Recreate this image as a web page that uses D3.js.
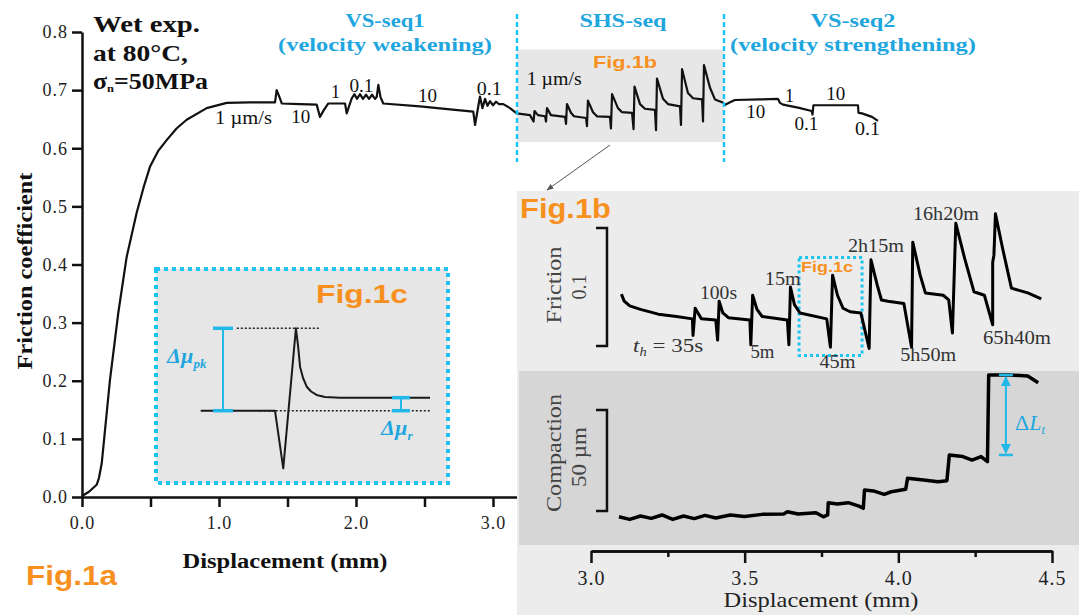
<!DOCTYPE html>
<html>
<head>
<meta charset="utf-8">
<script src="https://cdn.jsdelivr.net/npm/d3@7"></script>
<style>
  body { margin: 0; background: #fff; }
  svg { display: block; }
</style>
</head>
<body>
<script>
// ---- main friction curve (Fig.1a): displacement (mm) vs friction coefficient
var mainDisp = [0, 0.009, 0.051, 0.107, 0.124, 0.144, 0.168, 0.204, 0.265, 0.326, 0.399, 0.450, 0.496, 0.555, 0.618, 0.690, 0.764, 0.910, 1.056, 1.226, 1.409, 1.421, 1.438,
  1.458, 1.591, 1.713, 1.737, 1.766, 1.798, 1.920, 1.932, 1.969, 1.989, 2.007, 2.029, 2.051, 2.073, 2.095, 2.117, 2.139, 2.151, 2.163, 2.179,
  2.199, 2.467, 2.686, 2.856, 2.869, 2.905, 2.923, 2.942, 2.960, 2.978, 3.000, 3.022, 3.044, 3.075, 3.124, 3.173,
  3.270, 3.296, 3.303, 3.328, 3.380, 3.387, 3.394, 3.423, 3.526, 3.533, 3.540, 3.569, 3.591, 3.679, 3.686, 3.693, 3.730, 3.759, 3.854, 3.861,
  3.869, 3.912, 3.942, 4.015, 4.026, 4.033, 4.073, 4.109, 4.182, 4.190, 4.197, 4.241, 4.277, 4.365, 4.372, 4.380, 4.423, 4.460, 4.526, 4.533,
  4.540, 4.584, 4.620, 4.686,
  4.688, 4.730, 4.766, 4.949, 5.080, 5.095, 5.117, 5.226, 5.326, 5.332, 5.339, 5.664, 5.668, 5.693, 5.766, 5.810];
var mainFric = [0, 0.003, 0.009, 0.021, 0.033, 0.058, 0.115, 0.201, 0.317, 0.413, 0.489, 0.533, 0.568, 0.595, 0.614, 0.634, 0.649, 0.669, 0.678, 0.679, 0.679, 0.700, 0.690,
  0.677, 0.676, 0.675, 0.654, 0.666, 0.677, 0.677, 0.660, 0.686, 0.693, 0.685, 0.693, 0.685, 0.692, 0.685, 0.692, 0.685, 0.688, 0.709, 0.688,
  0.677, 0.672, 0.667, 0.663, 0.640, 0.689, 0.669, 0.685, 0.673, 0.681, 0.674, 0.680, 0.676, 0.676, 0.669, 0.660,
  0.657, 0.646, 0.664, 0.657, 0.655, 0.646, 0.669, 0.657, 0.654, 0.642, 0.676, 0.661, 0.655, 0.652, 0.638, 0.682, 0.662, 0.655, 0.654, 0.634,
  0.693, 0.669, 0.662, 0.661, 0.633, 0.706, 0.676, 0.668, 0.666, 0.631, 0.720, 0.685, 0.676, 0.672, 0.640, 0.736, 0.695, 0.686, 0.684, 0.646,
  0.743, 0.704, 0.684, 0.678,
  0.674, 0.679, 0.683, 0.684, 0.685, 0.678, 0.675, 0.670, 0.664, 0.658, 0.674, 0.674, 0.661, 0.660, 0.654, 0.647];

// velocity step labels on the main curve
var velText = ["1 \u00b5m/s", "10", "1", "0.1", "10", "0.1", "1 \u00b5m/s", "10", "1", "0.1", "10", "0.1"];
var velDisp = [0.971, 1.597, 1.850, 2.040, 2.522, 2.972, 3.246, 4.918, 5.164, 5.288, 5.502, 5.734];
var velFric = [0.642, 0.643, 0.686, 0.697, 0.680, 0.692, 0.709, 0.652, 0.680, 0.631, 0.683, 0.623];
var velLen = [57, 19, 0, 24, 19, 25, 55, 19, 0, 24, 19, 25];

// sequence boundaries (mm) and their headings
var seqBounds = [3.175, 4.686];
var seqText = ["VS-seq1", "SHS-seq", "VS-seq2"];
var seqSub = ["(velocity weakening)", "", "(velocity strengthening)"];

// ---- Fig.1b: slide-hold-slide detail
var shsDisp = [3.099, 3.108, 3.126, 3.161, 3.219, 3.278, 3.330, 3.332, 3.339, 3.348, 3.359, 3.406, 3.412, 3.417, 3.429, 3.447, 3.517, 3.520, 3.526, 3.540,
  3.557, 3.639, 3.644, 3.649, 3.662, 3.680, 3.767, 3.779, 3.786, 3.802, 3.820, 3.843, 3.878, 3.905, 3.911, 3.931, 3.945, 3.966, 4.018, 4.043,
  4.047, 4.071, 4.088, 4.146, 4.164, 4.176, 4.187, 4.216, 4.246, 4.280, 4.307, 4.307, 4.311, 4.316, 4.339, 4.368, 4.421, 4.465];
var shsFric = [0.674, 0.668, 0.664, 0.661, 0.657, 0.655, 0.653, 0.639, 0.662, 0.658, 0.653, 0.652, 0.635, 0.668, 0.658, 0.654, 0.652, 0.631, 0.673, 0.661,
  0.655, 0.652, 0.631, 0.680, 0.665, 0.658, 0.653, 0.629, 0.690, 0.673, 0.662, 0.659, 0.658, 0.628, 0.703, 0.682, 0.669, 0.668, 0.666, 0.629,
  0.718, 0.690, 0.675, 0.673, 0.669, 0.641, 0.734, 0.704, 0.676, 0.673, 0.648, 0.701, 0.707, 0.742, 0.713, 0.679, 0.675, 0.670];

var holdText = ["100s", "15m", "2h15m", "16h20m", "5m", "45m", "5h50m", "65h40m"];
var holdDisp = [3.415, 3.624, 3.927, 4.155, 3.558, 3.802, 4.097, 4.386];
var holdFric = [0.670, 0.682, 0.710, 0.737, 0.620, 0.611, 0.617, 0.632];
var holdLen = [37, 36, 56, 66, 24, 36, 56, 68];

// compaction (um) during the SHS sequence
var compDisp = [3.091, 3.126, 3.161, 3.196, 3.231, 3.266, 3.301, 3.336, 3.371, 3.406, 3.453, 3.499, 3.557, 3.627, 3.639, 3.674, 3.732, 3.756, 3.770,
  3.772, 3.802, 3.837, 3.872, 3.886, 3.890, 3.919, 3.954, 3.977, 4.024, 4.030, 4.082, 4.129, 4.158, 4.166, 4.210, 4.240, 4.269, 4.290,
  4.294, 4.361, 4.421, 4.455];
var compVal = [0.1, -1.2, 0.5, -0.7, 1.0, -1.2, 0.5, -0.8, 0.8, -0.5, 1.0, 0.2, 1.3, 1.5, 2.6, 1.5, 2.1, 0.1, 1.0,
  7.1, 6.4, 7.1, 5.4, 4.3, 13.4, 12.9, 11.2, 12.5, 13.7, 19.2, 18.3, 17.5, 18.0, 30.7, 29.9, 28.2, 29.9, 27.4,
  70.3, 70.3, 69.8, 66.5];

// ---- Fig.1c schematic (arbitrary units)
var schemX = [0.3, 32.6, 36.2, 41.7, 42.6, 43.5, 44.8, 46.4, 48.3, 50.7, 54.3, 60.9, 100];
var schemY = [0, 0, -70, 100, 79.7, 53.4, 39.7, 29.1, 23.3, 19.1, 16.6, 15.8, 15.8];

// axis ticks
var mainXTicks = [0, 0.5, 1, 1.5, 2, 2.5, 3];
var mainYTicks = [0, 0.1, 0.2, 0.3, 0.4, 0.5, 0.6, 0.7, 0.8];
var insetMajor = [3.0, 3.5, 4.0, 4.5];
var insetMinor = [3.25, 3.75, 4.25];

var serif = "'Liberation Serif','Times New Roman',serif";
var sans = "'Liberation Sans',Arial,sans-serif";
var cyanText = "#1fa6de";
var cyanLine = "#1cc4f0";
var orange = "#f7901e";

var width = 1079, height = 615;
var svg = d3.select("body").append("svg")
  .attr("width", width).attr("height", height);

var defs = svg.append("defs");
defs.append("marker")
  .attr("id", "arr").attr("viewBox", "0 0 10 10")
  .attr("refX", 9).attr("refY", 5)
  .attr("markerWidth", 7).attr("markerHeight", 7)
  .attr("orient", "auto-start-reverse")
  .append("path").attr("d", "M0,1 L10,5 L0,9 z").attr("fill", "#555");
defs.append("marker")
  .attr("id", "arrc").attr("viewBox", "0 0 10 10")
  .attr("refX", 9).attr("refY", 5)
  .attr("markerWidth", 5).attr("markerHeight", 5)
  .attr("orient", "auto-start-reverse")
  .append("path").attr("d", "M0,0 L10,5 L0,10 z").attr("fill", "#22b8e8");

function addText(parent, str, x, y, o) {
  var t = parent.append("text")
    .attr("x", x).attr("y", y)
    .attr("font-size", o.size)
    .attr("font-family", o.font || serif)
    .attr("font-weight", o.bold ? "bold" : "normal")
    .attr("font-style", o.italic ? "italic" : "normal")
    .attr("text-anchor", o.anchor || "start")
    .style("fill", o.color || "#111")
    .text(str);
  if (o.len) t.attr("textLength", o.len).attr("lengthAdjust", "spacingAndGlyphs");
  return t;
}

// ================= Fig.1a =================
var x = d3.scaleLinear().domain([0, 3]).range([82, 493]);
var y = d3.scaleLinear().domain([0, 0.8]).range([497, 32]);

// grey band behind the SHS sequence
svg.append("rect")
  .attr("x", x(seqBounds[0])).attr("y", y(0.77))
  .attr("width", x(seqBounds[1]) - x(seqBounds[0]))
  .attr("height", y(0.611) - y(0.77))
  .attr("fill", "#e7e7e7");

var line = d3.line()
  .x((d, i) => x(mainDisp[i]))
  .y((d, i) => y(mainFric[i]));

svg.append("path")
  .datum(mainDisp)
  .attr("d", line)
  .attr("fill", "none")
  .attr("stroke", "#111")
  .attr("stroke-width", 2.2)
  .attr("stroke-linejoin", "round");

// sequence boundaries
seqBounds.forEach((b) => {
  svg.append("line")
    .attr("x1", x(b)).attr("x2", x(b))
    .attr("y1", 14).attr("y2", 162)
    .attr("stroke", cyanLine)
    .attr("stroke-width", 2.5)
    .attr("stroke-dasharray", "5,3");
});
var seqCenter = [385, 623, 853];
var seqLen = [79, 87, 85];
var subLen = [214, 0, 246];
seqText.forEach((s, i) => {
  addText(svg, s, seqCenter[i], 27, {size: 18, bold: true, anchor: "middle", color: cyanText, len: seqLen[i]});
  if (seqSub[i]) addText(svg, seqSub[i], seqCenter[i], 51, {size: 18, bold: true, anchor: "middle", color: cyanText, len: subLen[i]});
});

// velocity labels
velText.forEach((s, i) => {
  var anchor = s.indexOf("m/s") > 0 ? "start" : "middle";
  addText(svg, s, x(velDisp[i]), y(velFric[i]), {size: 18, anchor: anchor, color: "#111", len: velLen[i] || null});
});

addText(svg, "Fig.1b", 593, 68, {size: 17, bold: true, font: sans, color: orange, len: 64});

// axes
var yAxis = svg.append("g")
  .attr("transform", "translate(82,0)")
  .call(d3.axisLeft(y).tickValues(mainYTicks).tickFormat(d3.format(".1f")).tickSize(10).tickSizeOuter(0).tickPadding(4));
var xAxisScale = x.copy().domain([0, x.invert(519)]).range([82, 519]);
var xAxis = svg.append("g")
  .attr("transform", "translate(0,497)")
  .call(d3.axisBottom(xAxisScale).tickValues(mainXTicks)
    .tickFormat((d) => (d % 1 === 0 ? d.toFixed(1) : ""))
    .tickSize(10).tickSizeOuter(0).tickPadding(9));
[yAxis, xAxis].forEach((a) => {
  a.select(".domain").attr("stroke", "#111").attr("stroke-width", 2.5);
  a.selectAll(".tick line").attr("stroke", "#111").attr("stroke-width", 2.5);
  a.selectAll(".tick text").attr("font-family", serif).attr("font-size", 18)
    .attr("letter-spacing", 1).style("fill", "#222");
});

addText(svg, "Displacement (mm)", 285, 568, {size: 20, bold: true, anchor: "middle", len: 205});
addText(svg, "Friction coefficient", 0, 0, {size: 22, bold: true, anchor: "middle", len: 197})
  .attr("transform", "translate(32,271) rotate(-90)");
addText(svg, "Fig.1a", 26, 585, {size: 27, bold: true, font: sans, color: orange, len: 91});

// experiment conditions
addText(svg, "Wet exp.", 93, 32, {size: 23, bold: true, len: 107});
addText(svg, "at 80\u00b0C,", 93, 61, {size: 23, bold: true, len: 95});
var sig = svg.append("text").attr("x", 93).attr("y", 89)
  .attr("font-family", serif).attr("font-weight", "bold").attr("font-size", 23)
  .attr("textLength", 115).attr("lengthAdjust", "spacingAndGlyphs").style("fill", "#111");
sig.append("tspan").text("\u03c3");
sig.append("tspan").attr("font-size", 11).attr("dy", 3).text("n");
sig.append("tspan").attr("dy", -3).text("=50MPa");

// ================= Fig.1c schematic =================
svg.append("rect")
  .attr("x", 156).attr("y", 269).attr("width", 292).attr("height", 214)
  .attr("fill", "#e6e6e6")
  .attr("stroke", cyanLine).attr("stroke-width", 4).attr("stroke-dasharray", "4,4");
addText(svg, "Fig.1c", 316, 303, {size: 26, bold: true, font: sans, color: orange, len: 92});

var sx = d3.scaleLinear().domain([0, 100]).range([200, 430]);
var sy = d3.scaleLinear().domain([0, 100]).range([410.7, 328.3]);

// dotted reference levels
svg.append("line").attr("x1", sx(26)).attr("x2", sx(100)).attr("y1", sy(0)).attr("y2", sy(0))
  .attr("stroke", "#222").attr("stroke-width", 1.6).attr("stroke-dasharray", "2,2");
svg.append("line").attr("x1", sx(16)).attr("x2", sx(52)).attr("y1", sy(100)).attr("y2", sy(100))
  .attr("stroke", "#222").attr("stroke-width", 1.6).attr("stroke-dasharray", "2,2");

svg.append("path")
  .datum(schemX)
  .attr("d", d3.line().x((d) => sx(d)).y((d, i) => sy(schemY[i])))
  .attr("fill", "none").attr("stroke", "#1a1a1a").attr("stroke-width", 2).attr("stroke-linejoin", "round");

function bar(cx, v0, v1, halfw) {
  svg.append("line").attr("x1", cx).attr("x2", cx).attr("y1", sy(v0)).attr("y2", sy(v1))
    .attr("stroke", "#22b8e8").attr("stroke-width", 2);
  [v0, v1].forEach((v) => {
    svg.append("line").attr("x1", cx - halfw).attr("x2", cx + halfw).attr("y1", sy(v)).attr("y2", sy(v))
      .attr("stroke", "#22b8e8").attr("stroke-width", 3.5);
  });
}
bar(sx(10), 0, 100, 10);
bar(sx(87.4), 0, 15.8, 9);

var dpk = svg.append("text").attr("x", 167).attr("y", 363)
  .attr("font-family", serif).attr("font-weight", "bold").attr("font-style", "italic")
  .attr("font-size", 22).style("fill", cyanText);
dpk.append("tspan").text("\u0394\u00b5");
dpk.append("tspan").attr("font-size", 13).attr("dy", 5).text("pk");
var dr = svg.append("text").attr("x", 381).attr("y", 435)
  .attr("font-family", serif).attr("font-weight", "bold").attr("font-style", "italic")
  .attr("font-size", 22).style("fill", cyanText);
dr.append("tspan").text("\u0394\u00b5");
dr.append("tspan").attr("font-size", 13).attr("dy", 5).text("r");

// ================= Fig.1b inset =================
svg.append("line").attr("x1", 610).attr("y1", 145).attr("x2", 547).attr("y2", 190)
  .attr("stroke", "#555").attr("stroke-width", 1).attr("marker-end", "url(#arr)");

svg.append("rect").attr("x", 517).attr("y", 191).attr("width", 562).attr("height", 424).attr("fill", "#ececec");
svg.append("rect").attr("x", 519).attr("y", 371).attr("width", 560).attr("height", 174).attr("fill", "#d6d6d6");

var x1 = d3.scaleLinear().domain([3.0, 4.5]).range([591, 1052]);
var yF = d3.scaleLinear().domain([0.63, 0.73]).range([346, 228]);
var yC = d3.scaleLinear().domain([0, 50]).range([517, 416]);

addText(svg, "Fig.1b", 520, 218, {size: 27, bold: true, font: sans, color: orange, len: 91});

// scale bars
function scaleBar(ys, v0, v1) {
  var bx = x1(3.052);
  svg.append("path")
    .attr("d", "M" + (bx - 11) + "," + ys(v1) + "H" + bx + "V" + ys(v0) + "H" + (bx - 11))
    .attr("fill", "none").attr("stroke", "#111").attr("stroke-width", 2.5);
}
scaleBar(yF, 0.63, 0.73);
scaleBar(yC, 3, 53);

addText(svg, "Friction", 0, 0, {size: 21, anchor: "middle", color: "#444", len: 77})
  .attr("transform", "translate(561,285) rotate(-90)");
addText(svg, "0.1", 0, 0, {size: 21, anchor: "middle", color: "#444", len: 25})
  .attr("transform", "translate(586,287) rotate(-90)");
addText(svg, "Compaction", 0, 0, {size: 21, anchor: "middle", color: "#444", len: 118})
  .attr("transform", "translate(561,453) rotate(-90)");
addText(svg, "50 \u00b5m", 0, 0, {size: 21, anchor: "middle", color: "#444", len: 60})
  .attr("transform", "translate(586,457) rotate(-90)");

// small Fig.1c box
svg.append("rect")
  .attr("x", x1(3.677)).attr("y", yF(0.705))
  .attr("width", x1(3.882) - x1(3.677)).attr("height", yF(0.622) - yF(0.705))
  .attr("fill", "none").attr("stroke", cyanLine).attr("stroke-width", 3).attr("stroke-dasharray", "3,3");
addText(svg, "Fig.1c", 801, 272, {size: 14, bold: true, font: sans, color: orange, len: 52});

svg.append("path")
  .datum(shsDisp)
  .attr("d", d3.line().x((d) => x1(d)).y((d, i) => yF(shsFric[i])))
  .attr("fill", "none").attr("stroke", "#000").attr("stroke-width", 3).attr("stroke-linejoin", "round");

holdText.forEach((s, i) => {
  addText(svg, s, x1(holdDisp[i]), yF(holdFric[i]), {size: 19, anchor: "middle", color: "#333", len: holdLen[i]});
});
var th = svg.append("text").attr("x", x1(3.137)).attr("y", yF(0.625))
  .attr("font-family", serif).attr("font-size", 19).style("fill", "#333")
  .attr("textLength", 70).attr("lengthAdjust", "spacingAndGlyphs");
th.append("tspan").attr("font-style", "italic").text("t");
th.append("tspan").attr("font-style", "italic").attr("font-size", 12).attr("dy", 4).text("h");
th.append("tspan").attr("dy", -4).text(" = 35s");

// compaction trace
svg.append("path")
  .datum(compDisp)
  .attr("d", d3.line().x((d) => x1(d)).y((d, i) => yC(compVal[i])))
  .attr("fill", "none").attr("stroke", "#000").attr("stroke-width", 3.5).attr("stroke-linejoin", "round");

// delta L arrow
var ax = x1(4.35);
svg.append("line").attr("x1", ax).attr("x2", ax).attr("y1", yC(70.3) + 2).attr("y2", yC(30.7) - 2)
  .attr("stroke", "#22b8e8").attr("stroke-width", 2)
  .attr("marker-start", "url(#arrc)").attr("marker-end", "url(#arrc)");
[70.3, 30.7].forEach((v) => {
  svg.append("line").attr("x1", ax - 7).attr("x2", ax + 7).attr("y1", yC(v)).attr("y2", yC(v))
    .attr("stroke", "#22b8e8").attr("stroke-width", 2.5);
});
var dl = svg.append("text").attr("x", x1(4.38)).attr("y", yC(43))
  .attr("font-family", serif).attr("font-size", 22).style("fill", cyanText);
dl.append("tspan").text("\u0394");
dl.append("tspan").attr("font-style", "italic").text("L");
dl.append("tspan").attr("font-style", "italic").attr("font-size", 13).attr("dy", 4).text("t");

// inset axis
var ax1 = svg.append("g").attr("transform", "translate(0,551)")
  .call(d3.axisBottom(x1).tickValues(insetMajor).tickFormat(d3.format(".1f")).tickSize(12).tickSizeOuter(0).tickPadding(8));
var ax2 = svg.append("g").attr("transform", "translate(0,551)")
  .call(d3.axisBottom(x1).tickValues(insetMinor).tickFormat("").tickSize(6).tickSizeOuter(0));
[ax1, ax2].forEach((a) => {
  a.select(".domain").attr("stroke", "#111").attr("stroke-width", 2.5);
  a.selectAll(".tick line").attr("stroke", "#111").attr("stroke-width", 2.5);
  a.selectAll(".tick text").attr("font-family", serif).attr("font-size", 20)
    .attr("letter-spacing", 1).style("fill", "#222");
});
addText(svg, "Displacement (mm)", 821, 607, {size: 21, anchor: "middle", color: "#222", len: 195});
</script>
</body>
</html>
